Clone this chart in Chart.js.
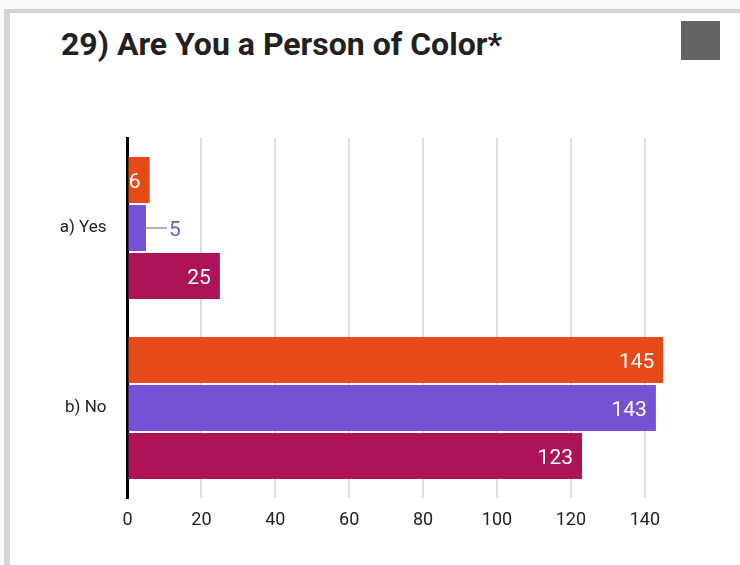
<!DOCTYPE html>
<html>
<head>
<meta charset="utf-8">
<script src="https://cdn.jsdelivr.net/npm/chart.js@4.4.1/dist/chart.umd.min.js"></script>
<style>
  html, body { margin: 0; padding: 0; background: #fff; overflow: hidden; }
  #wrap { position: relative; width: 740px; height: 565px; background: #fafafa; }
  #frame { position: absolute; left: 4px; top: 9px; right: 0; bottom: 0; background: #fff;
           border-left: 6px solid #d4d4d4; border-top: 4px solid #d4d4d4; box-sizing: border-box; }
  #title { position: absolute; left: 61px; top: 28px; font: bold 32px Roboto, sans-serif; line-height: 32px;
           color: #212121; white-space: nowrap; }
  #menu { position: absolute; left: 681px; top: 21px; width: 39px; height: 39px; background: #636363; }
  #c { position: absolute; left: 0; top: 0; }
</style>
</head>
<body>
<div id="wrap">
  <div id="frame"></div>
  <div id="title">29) Are You a Person of Color*</div>
  <div id="menu"></div>
  <canvas id="c" width="740" height="565"></canvas>
</div>
<script>
const categories = ['a) Yes', 'b) No'];
const seriesNames = ['Series 1', 'Series 2', 'Series 3'];
const series1 = [6, 145];
const series2 = [5, 143];
const series3 = [25, 123];
const seriesColors = ['#e64a19', '#7552d4', '#ad1457'];
const tickValues = [0, 20, 40, 60, 80, 100, 120, 140];
const axisMax = 145;

const barLabels = {
  id: 'barLabels',
  afterDatasetsDraw(chart) {
    const ctx = chart.ctx;
    ctx.save();
    ctx.font = '21px Roboto';
    ctx.textBaseline = 'alphabetic';
    chart.data.datasets.forEach((ds, di) => {
      const meta = chart.getDatasetMeta(di);
      meta.data.forEach((bar, i) => {
        const text = String(ds.data[i]);
        const tw = ctx.measureText(text).width;
        const w = bar.x - bar.base;
        const yb = bar.y + 7.5;
        if (tw + 9 <= w) {
          ctx.fillStyle = '#ffffff';
          ctx.textAlign = 'right';
          ctx.fillText(text, bar.x - 9, yb);
        } else {
          ctx.strokeStyle = '#999999';
          ctx.lineWidth = 1.5;
          ctx.beginPath();
          ctx.moveTo(bar.x, bar.y);
          ctx.lineTo(bar.x + 21, bar.y);
          ctx.stroke();
          ctx.fillStyle = ds.backgroundColor;
          ctx.textAlign = 'left';
          ctx.fillText(text, bar.x + 23, yb);
        }
      });
    });
    ctx.restore();
  }
};

function draw() {
  Chart.defaults.font.family = 'Roboto';
  new Chart(document.getElementById('c'), {
    type: 'bar',
    data: {
      labels: categories,
      datasets: [series1, series2, series3].map((d, i) => ({
        label: seriesNames[i],
        data: d,
        backgroundColor: seriesColors[i],
        borderWidth: 0,
        categoryPercentage: 0.8,
        barPercentage: 0.955
      }))
    },
    options: {
      indexAxis: 'y',
      responsive: false,
      animation: false,
      events: [],
      layout: { padding: { top: 138, right: 76.7, bottom: 0, left: 0 } },
      plugins: { legend: { display: false }, title: { display: false }, tooltip: { enabled: false } },
      scales: {
        x: {
          type: 'linear',
          min: 0,
          max: axisMax,
          afterBuildTicks(scale) { scale.ticks = tickValues.map(v => ({ value: v })); },
          afterFit(scale) { scale.height = 67; },
          grid: { color: '#dddddd', lineWidth: 2, drawTicks: false },
          border: { display: false },
          ticks: { color: '#222222', font: { size: 18 }, padding: 12, maxRotation: 0 }
        },
        y: {
          z: 1,
          afterFit(scale) { scale.width = 127.5; },
          grid: { display: false, drawTicks: false },
          border: { display: true, color: '#000000', width: 3 },
          ticks: { color: '#222222', font: { size: 17 }, padding: 21 }
        }
      }
    },
    plugins: [barLabels]
  });
}

if (document.fonts && document.fonts.load) {
  Promise.all([document.fonts.load('21px Roboto'), document.fonts.load('bold 32px Roboto')])
    .then(draw, draw);
} else { draw(); }
</script>
</body>
</html>
